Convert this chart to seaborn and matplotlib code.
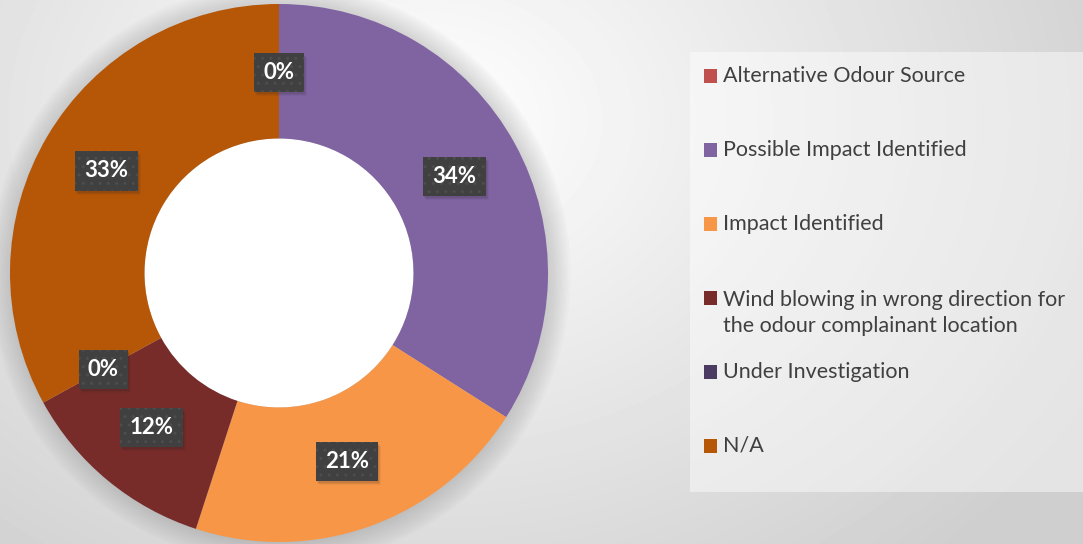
import numpy as np
import matplotlib
matplotlib.use("Agg")
import matplotlib.pyplot as plt
import seaborn as sns
from matplotlib import transforms as mtrans
from matplotlib.patches import Rectangle, Circle

categories = ["Alternative Odour Source", "Possible Impact Identified", "Impact Identified",
              "Wind blowing in wrong direction for the odour complainant location",
              "Under Investigation", "N/A"]
legend_labels = ["Alternative Odour Source", "Possible Impact Identified", "Impact Identified",
                 "Wind blowing in wrong direction for\nthe odour complainant location",
                 "Under Investigation", "N/A"]
values = [0, 34, 21, 12, 0, 33]
colors = ["#C0504D", "#8064A2", "#F79646", "#772C2A", "#4B3A62", "#B65708"]

sns.set_theme(style="white")
plt.rcParams["font.family"] = ["Lato", "DejaVu Sans"]
plt.rcParams["hatch.linewidth"] = 1.0

W, H = 1083, 544
fig = plt.figure(figsize=(W / 100, H / 100), dpi=100)

# background gradient
bg = fig.add_axes([0, 0, 1, 1], zorder=-10)
yy, xx = np.mgrid[0:H, 0:W]
d = np.sqrt(((xx - 430) / 1.0) ** 2 + ((yy - 120) * 1.3) ** 2)
g = 1.0 - 0.19 * np.clip(d / 760, 0, 1)
bg.imshow(g, cmap="gray", vmin=0, vmax=1, extent=[0, 1, 0, 1], aspect="auto", origin="upper")
bg.set_xlim(0, 1); bg.set_ylim(0, 1)
bg.axis("off")

# legend background box
bg.add_patch(Rectangle((690 / W, 1 - 492 / H), 393 / W, 440 / H, transform=bg.transAxes,
                       fc="white", alpha=0.45, ec="none", zorder=5))

cx, cy, r = 279, 273, 269
ax = fig.add_axes([(cx - r) / W, (H - cy - r) / H, 2 * r / W, 2 * r / H])
ax.set_xlim(-1, 1)
ax.set_ylim(-1, 1)

# soft halo around the ring
for k in range(10):
    ax.add_patch(Circle((0.003, -0.006), 1.0 + 0.009 * k, fc="#808080", ec="none",
                        alpha=0.035, zorder=0, clip_on=False))

wedges, texts, autotexts = ax.pie(
    values, colors=colors, startangle=90, counterclock=False, radius=1,
    wedgeprops=dict(width=0.5, edgecolor="none", linewidth=0, zorder=2),
    autopct=lambda p: f"{p:.0f}%", pctdistance=0.745,
    textprops=dict(color="white", fontsize=16, fontweight="bold"))
ax.add_patch(Circle((0, 0), 0.5, fc="white", ec="none", zorder=1.5))
ax.set_xlim(-1, 1)
ax.set_ylim(-1, 1)
ax.set_aspect("equal")
ax.axis("off")

for t in autotexts:
    t.set_zorder(5)
    t.set_bbox(dict(boxstyle="square,pad=0.42", fc="#404040", ec="#4d4d4d", lw=0, hatch=".."))

# legend
line_gap = 28
for i, (lab, col) in enumerate(zip(legend_labels, colors)):
    base = 82 + i * 74
    nlines = lab.count("\n") + 1
    fig.text(723 / W, 1 - (base + line_gap * (nlines - 1)) / H, lab, va="baseline", ha="left",
             fontsize=15.5, color="#404040", linespacing=1.4)
    fig.patches.append(Rectangle((704 / W, 1 - (base + 1) / H), 13 / W, 14 / H,
                                 transform=fig.transFigure, fc=col, ec="none", zorder=10))

# soft shadows behind the label boxes (display coordinates)
fig.canvas.draw()
renderer = fig.canvas.get_renderer()
for t in autotexts:
    bb = t.get_bbox_patch().get_window_extent(renderer)
    for k, a in enumerate([0.10, 0.08, 0.06]):
        ax.add_patch(Rectangle((bb.x0 + 1 + k, bb.y0 - 2 - k), bb.width, bb.height,
                               transform=mtrans.IdentityTransform(), fc="#202020",
                               alpha=a, ec="none", zorder=4))

fig.savefig("out.png", dpi=100)
